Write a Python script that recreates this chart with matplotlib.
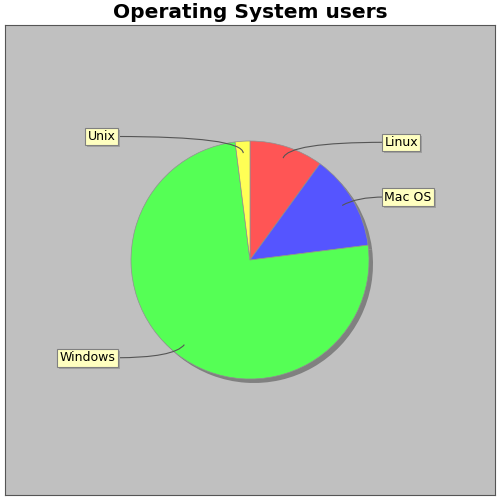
import numpy as np
import matplotlib
matplotlib.use("Agg")
import matplotlib.pyplot as plt
from matplotlib.path import Path
from matplotlib.patches import PathPatch
import matplotlib.patheffects as pe

TITLE = "Operating System users"
LABELS = ["Linux", "Mac OS", "Windows", "Unix"]
VALUES = [10, 13, 75, 2]
COLORS = ["#FF5555", "#5555FF", "#55FF55", "#FFFF55"]

fig = plt.figure(figsize=(5, 5), dpi=100)
fig.patch.set_facecolor("white")

# plot area in pixels: x 5..495, y 25..495 ; pie centre (250, 260), r 119
R = 119.0
ax = fig.add_axes([5 / 500, 5 / 500, 490 / 500, 470 / 500])
ax.set_facecolor("#C0C0C0")

# shadow
off = 4 / R
ax.pie(VALUES, colors=["#808080"] * len(VALUES), startangle=90, counterclock=False,
       center=(off, -off), radius=1.0, wedgeprops=dict(linewidth=0), frame=True)
wedges, _ = ax.pie(VALUES, colors=COLORS, startangle=90, counterclock=False,
                   center=(0, 0), radius=1.0, frame=True,
                   wedgeprops=dict(edgecolor="#909090", linewidth=0.5))
ax.set_xlim((5 - 250) / R, (495 - 250) / R)
ax.set_ylim((260 - 495) / R, (260 - 25) / R)
ax.set_aspect("auto")
ax.set_xticks([])
ax.set_yticks([])
for s in ax.spines.values():
    s.set_color("#555555")
    s.set_linewidth(0.8)

total = sum(VALUES)
cum = 0
for lab, v in zip(LABELS, VALUES):
    mid = np.deg2rad((cum + v / 2) / total * 360)  # clockwise from top
    cum += v
    sx, sy = np.sin(mid), np.cos(mid)
    anchor = (0.9 * sx, 0.9 * sy)
    ly = 1.04 * sy
    right = sx >= 0
    lx = 1.13 if right else -1.13
    ctrl = (ly / sy * sx, ly)
    path = Path([anchor, ctrl, (lx, ly)], [Path.MOVETO, Path.CURVE3, Path.CURVE3])
    ax.add_patch(PathPatch(path, fill=False, edgecolor="#555555", lw=0.8))
    t = ax.text(lx, ly, lab, fontsize=9, ha="left" if right else "right", va="center",
                color="black",
                bbox=dict(boxstyle="square,pad=0.18", facecolor="#FFFFC0",
                          edgecolor="#808080", linewidth=0.8))
    t.get_bbox_patch().set_path_effects([
        pe.SimplePatchShadow(offset=(1.5, -1.5), shadow_rgbFace="#A0A0A0", alpha=1.0),
        pe.Normal()])

fig.text(0.5, 1 - 13 / 500, TITLE, ha="center", va="center", fontsize=14.5,
         fontweight="bold")

fig.savefig("out.png", dpi=100)
